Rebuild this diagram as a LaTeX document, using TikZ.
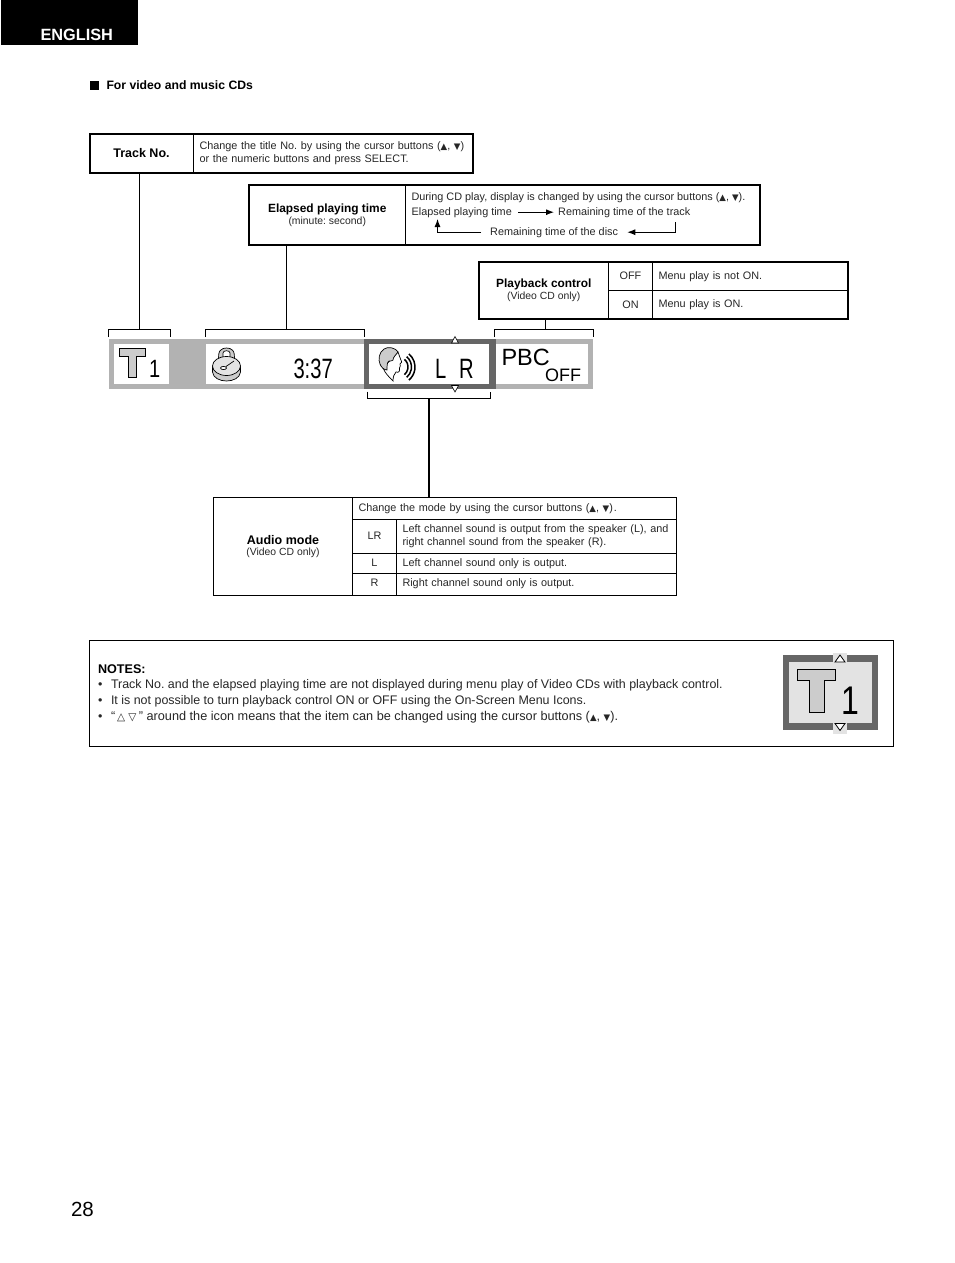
\documentclass[tikz,border=0pt]{standalone}
\usepackage{fontspec}
\setmainfont{Liberation Sans}
\newfontfamily\symfont{DejaVu Sans}
\usetikzlibrary{arrows.meta,calc}
\frenchspacing

\definecolor{barlight}{HTML}{B2B2B2}
\definecolor{bardark}{HTML}{666666}
\definecolor{iconfill}{HTML}{CCCCCC}
\definecolor{iconback}{HTML}{E3E3E3}

\newcommand{\curup}{{\symfont\fontsize{8.6}{8.6}\selectfont ▲}}
\newcommand{\curdn}{{\symfont\fontsize{8.6}{8.6}\selectfont ▼}}
\newcommand{\hollowup}{{\symfont\fontsize{10.5}{10.5}\selectfont △}}
\newcommand{\hollowdn}{{\symfont\fontsize{10.5}{10.5}\selectfont ▽}}
\newcommand{\smalltxt}{\fontsize{10.85}{12.4}\selectfont\color{black!85}}
\newcommand{\subtxt}{\fontsize{10.4}{12}\selectfont\color{black!85}}
\newcommand{\notetxt}{\fontsize{12.45}{15.8}\selectfont\color{black!85}}
\newcommand{\labeltxt}{\fontsize{11.9}{13}\selectfont\bfseries\color{black}}
\newcommand{\widelabel}{\fontsize{12.5}{13}\selectfont\bfseries\color{black}}
\newcommand{\headtxt}{\fontsize{12.2}{13}\selectfont\bfseries\color{black}}

\tikzset{
  cell/.style={draw,line width=1pt,inner sep=0pt,outer sep=0pt,font=\smalltxt,align=center},
  textcell/.style={cell,align=left,inner xsep=6pt},
  frameline/.style={line width=2pt},
  wire/.style={line width=1pt},
  flow/.style={line width=1pt,-{Latex[length=8pt,width=6pt]}},
  panel/.style={inner sep=0pt,outer sep=0pt,anchor=north west},
  freetext/.style={inner sep=0pt,outer sep=0pt,anchor=base west},
  emblem/.style={draw,line width=1pt,fill=iconfill,line join=miter},
  marker/.style={draw,line width=.6pt,fill=white}
}

\begin{document}
\begin{tikzpicture}[x=1pt,y=-1pt]
    \useasboundingbox (0,0) rectangle (954,1263);
    % page header
    \node[panel,fill=black,minimum width=137,minimum height=45] (tab) at (1,0) {};
    \node[freetext,text=white,font=\fontsize{16.3}{17}\selectfont\bfseries] (tabtext) at (40.5,40.5) {ENGLISH};
    \node[panel,fill=black,minimum width=9,minimum height=9] (headmark) at (89.5,80.5) {};
    \node[freetext,font=\headtxt] (headtext) at (106.5,89) {For video and music CDs};
    \node[freetext,font=\fontsize{20.5}{21}\selectfont] (pagenum) at (71,1216) {28};

    % track number table
    \node[cell,minimum width=104,minimum height=39,font=\widelabel] (tracklabel) at (141.5,153.5) {\raisebox{2pt}{Track No.}};
    \node[textcell,minimum width=279,minimum height=39,text width=267] (tracktext) at (333,153)
      {Change the title No. by using the cursor buttons (\curup, \curdn)\\[.6pt]or the numeric buttons and press SELECT.};
    \draw[frameline] (tracklabel.north west) rectangle (tracktext.south east);

    % elapsed time table
    \node[cell,minimum width=156.5,minimum height=60] (timelabel) at (327.25,215)
      {{\labeltxt Elapsed playing time}\\[-.5pt]\subtxt (minute: second)};
    \node[cell,minimum width=354.5,minimum height=60] (timetext) at (582.75,215) {};
    \draw[frameline] (timelabel.north west) rectangle (timetext.south east);
    \node[freetext,font=\smalltxt] (timehint) at (411.5,200) {During CD play, display is changed by using the cursor buttons (\curup, \curdn).};
    \node[font=\smalltxt,inner xsep=6pt,inner ysep=0pt,anchor=base west] (stepelapsed) at (405.5,215) {Elapsed playing time};
    \node[font=\smalltxt,inner xsep=4pt,inner ysep=0pt,anchor=base west] (steptrack) at (554,215) {Remaining time of the track};
    \node[font=\smalltxt,inner xsep=9pt,inner ysep=0pt,anchor=base west] (stepdisc) at (481,235) {Remaining time of the disc};
    \coordinate (trackdrop) at (675,222);
    \coordinate (discrise) at (437.5,219);
    \draw[flow] (stepelapsed.east) -- (steptrack.west);
    \draw[flow] (trackdrop) |- (stepdisc.east);
    \draw[flow] (stepdisc.west) -| (discrise);

    % playback control table
    \node[cell,minimum width=129.5,minimum height=56.5] (pbclabel) at (543.75,290.25)
      {{\labeltxt Playback control}\\[-.5pt]\subtxt (Video CD only)};
    \node[cell,minimum width=44,minimum height=28.5] (pbcoff) at (630.5,276.25) {OFF};
    \node[cell,minimum width=44,minimum height=28] (pbcon) at (630.5,304.5) {ON};
    \node[textcell,minimum width=195,minimum height=28.5,text width=183] (pbcofftext) at (750,276.25) {Menu play is not ON.};
    \node[textcell,minimum width=195,minimum height=28,text width=183] (pbcontext) at (750,304.5) {Menu play is ON.};
    \draw[frameline] (pbclabel.north west) rectangle (pbcontext.south east);

    % on-screen bar
    \node[panel,fill=barlight,minimum width=255,minimum height=50] (barleft) at (109,339) {};
    \node[panel,fill=barlight,minimum width=98,minimum height=50] (barright) at (495,339) {};
    \node[panel,fill=bardark,minimum width=132,minimum height=50] (baraudio) at (364,339) {};
    \node[panel,fill=white,minimum width=55,minimum height=40] (slottrack) at (114,344) {};
    \node[panel,fill=white,minimum width=157.5,minimum height=40] (slottime) at (206,344) {};
    \node[panel,fill=white,minimum width=120,minimum height=40] (slotaudio) at (369,344) {};
    \node[panel,fill=white,minimum width=92,minimum height=40] (slotpbc) at (496,344) {};
    % track icon
    \draw[emblem] (119,348.5) -- (145,348.5) -- (145,356) -- (136.5,356) -- (136.5,377.5) -- (128,377.5) -- (128,356) -- (119,356) -- cycle;
    \node[freetext,font=\fontsize{25}{25}\selectfont,xscale=.8] (barone) at (149,377.5) {1};
    % stopwatch
    \draw[emblem,line width=.7pt] (219,361) .. controls (217,350) and (222,348) .. (226.5,348) .. controls (231,348) and (236,350) .. (234,361) -- cycle;
    \draw[line width=.7pt,fill=white] (223,360) -- (223,353) .. controls (223,350) and (230,350) .. (230,353) -- (230,360) -- cycle;
    \draw[emblem,line width=.7pt] (212.5,366) -- (212.5,372) .. controls (213,378) and (220,381) .. (226.5,381) .. controls (233,381) and (240,378) .. (240.5,372) -- (240.5,366) -- cycle;
    \draw[line width=.7pt,fill=iconback] (226.5,366) ellipse (14 and 9.5);
    \draw[line width=.7pt,fill=white] (223.5,368) ellipse (3 and 1.6);
    \draw[line width=.7pt] (226,366.5) -- (234,361);
    \node[freetext,font=\fontsize{28}{28}\selectfont,xscale=.72] (bartime) at (293.5,378) {3:37};
    % listener
    \draw[line width=.7pt,fill=white] (383,368) .. controls (385,373) and (389,377) .. (393,381) .. controls (393,377) and (394,374) .. (396,372) .. controls (399,373) and (400,371) .. (399.5,368) .. controls (401,367) and (400,365) .. (400,364) .. controls (402,363) and (402,362) .. (400.5,359) -- (398,352) -- cycle;
    \draw[emblem,line width=.7pt] (398,352) .. controls (396,348) and (388,346) .. (384,349) .. controls (379,352) and (378,360) .. (380,364) .. controls (381,367) and (384,370) .. (387,370) .. controls (387,366) and (387,362) .. (389,361) .. controls (391,360) and (392,362) .. (393,360) .. controls (393,357) and (396,355) .. (398,352) -- cycle;
    \foreach \r in {10,13.5,17}
      \draw[line width=1.5pt] ($(398,367)+(-50:\r)$) arc[start angle=-50,end angle=50,radius=\r];
    \node[freetext,font=\fontsize{28}{28}\selectfont,xscale=.72] (barleftch) at (435,378) {L};
    \node[freetext,font=\fontsize{28}{28}\selectfont,xscale=.72] (barrightch) at (459,378) {R};
    \draw[marker] (455,336.5) -- (458.5,343) -- (451.5,343) -- cycle;
    \draw[marker] (455,392) -- (458.5,385.5) -- (451.5,385.5) -- cycle;
    \node[freetext,font=\fontsize{23.5}{24}\selectfont] (pbcword) at (501.5,365) {PBC};
    \node[freetext,font=\fontsize{18}{18}\selectfont] (pbcstate) at (545,381.7) {OFF};

    % brackets above and below the bar
    \coordinate (bracktrack) at (139.5,329.5);
    \coordinate (bracktime) at (286,329.5);
    \coordinate (brackpbc) at (545,329.5);
    \coordinate (brackaudio) at (429,398);
    \draw[wire] (108.5,337) |- (170.5,329.5) -- (170.5,337);
    \draw[wire] (205.5,337) |- (364.5,329.5) -- (364.5,337);
    \draw[wire] (494.5,337) |- (593.5,329.5) -- (593.5,337);
    \draw[wire] (367.5,391.5) |- (490.5,398) -- (490.5,391.5);

    % audio mode table
    \node[cell,minimum width=139,minimum height=98] (audiolabel) at (283,546.5)
      {{\widelabel Audio mode}\\[-.5pt]\subtxt (Video CD only)};
    \node[textcell,minimum width=324,minimum height=21.5,text width=312] (audiohint) at (514.5,508.25)
      {Change the mode by using the cursor buttons (\curup, \curdn)\hspace{1pt}.};
    \node[cell,minimum width=44,minimum height=34] (audiolr) at (374.5,536) {LR};
    \node[textcell,minimum width=280,minimum height=34,text width=268] (audiolrtext) at (536.5,536)
      {Left channel sound is output from the speaker (L), and\\right channel sound from the speaker (R).};
    \node[cell,minimum width=44,minimum height=20.5] (audiol) at (374.5,563.25) {L};
    \node[textcell,minimum width=280,minimum height=20.5,text width=268] (audioltext) at (536.5,563.25)
      {\raisebox{-1pt}{Left channel sound only is output.}};
    \node[cell,minimum width=44,minimum height=22] (audior) at (374.5,584.5) {\raisebox{4pt}{R}};
    \node[textcell,minimum width=280,minimum height=22,text width=268] (audiortext) at (536.5,584.5)
      {\raisebox{4pt}{Right channel sound only is output.}};

    % connectors
    \draw[wire] (tracklabel.south -| bracktrack) -- (bracktrack);
    \draw[wire] (timelabel.south -| bracktime) -- (bracktime);
    \draw[wire] (pbclabel.south -| brackpbc) -- (brackpbc);
    \draw[frameline] (brackaudio) -- (brackaudio |- audiolabel.north);

    % notes
    \node[panel,draw,line width=1pt,minimum width=804.5,minimum height=106] (notesbox) at (89,640.5) {};
    \node[freetext,font=\fontsize{12.6}{13}\selectfont\bfseries] (notestitle) at (98,673) {NOTES:};
    \node[freetext,font=\notetxt] (bulleta) at (98,688.5) {•};
    \node[freetext,font=\notetxt] (bulletb) at (98,704.5) {•};
    \node[freetext,font=\notetxt] (bulletc) at (98,720) {•};
    \node[freetext,font=\notetxt] (notea) at (111,688.5) {Track No. and the elapsed playing time are not displayed during menu play of Video CDs with playback control.};
    \node[freetext,font=\notetxt] (noteb) at (111,704.5) {It is not possible to turn playback control ON or OFF using the On-Screen Menu Icons.};
    \node[freetext,font=\fontsize{12.7}{15.8}\selectfont\color{black!85}] (notec) at (111,720) {“\hspace{2pt}\hollowup\hspace{3pt}\hollowdn\hspace{2.5pt}” around the icon means that the item can be changed using the cursor buttons (\curup, \curdn).};

    % sample icon
    \node[panel,fill=bardark,minimum width=95,minimum height=75] (samplefr) at (783,655) {};
    \node[panel,fill=iconback,minimum width=83,minimum height=61] (sampleback) at (789,662) {};
    \node[panel,fill=iconback,minimum width=14,minimum height=9] (sampletop) at (833,653) {};
    \node[panel,fill=iconback,minimum width=14,minimum height=11] (samplebot) at (833,723) {};
    \draw[emblem] (797,669) -- (835,669) -- (835,680.5) -- (824,680.5) -- (824,712.5) -- (809,712.5) -- (809,680.5) -- (797,680.5) -- cycle;
    \node[freetext,font=\fontsize{40}{40}\selectfont,xscale=.8] (sampleone) at (841,714) {1};
    \draw[marker,line width=.8pt] (840,655) -- (845,662) -- (835,662) -- cycle;
    \draw[marker,line width=.8pt] (840,730.5) -- (845,723.5) -- (835,723.5) -- cycle;
\end{tikzpicture}
\end{document}
